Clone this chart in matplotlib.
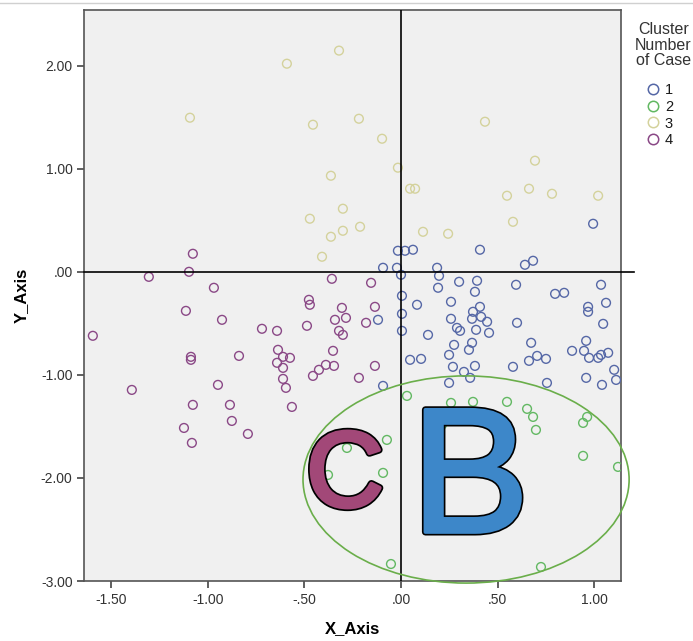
import matplotlib
matplotlib.use("Agg")
import matplotlib.pyplot as plt
import matplotlib.patheffects as pe
from matplotlib.patches import Ellipse
from matplotlib.lines import Line2D
from matplotlib.ticker import FixedLocator, FuncFormatter

plt.rcParams['font.family'] = ['Liberation Sans', 'DejaVu Sans']

# cluster 1 (blue)
c1_x = [0.995, -0.016, 0.021, 0.062, 0.409, 0.642, 0.684, -0.093, -0.021, 0.187,
        0.197, 0.000, 0.301, 0.394, 0.192, 0.383, 0.596, 1.036, 0.798, 0.845,
        0.005, 0.083, 0.259, 0.409, 0.373, 0.368, 0.415, 0.259, 0.446, 0.601,
        0.969, 0.969, 1.062, -0.119, 0.005, 0.290, 0.306, 0.389, 0.456, 1.047,
        0.005, 0.140, 0.959, 0.275, 0.368, 0.352, 0.674, 0.886, 0.948, 0.249,
        0.705, 0.663, 0.751, 0.974, 1.021, 1.036, 1.073, 0.047, 0.104, 0.269,
        0.383, 0.580, 0.326, 0.358, 1.104, 1.114, 0.959, 1.041, 0.249, 0.756,
        -0.093]
c1_y = [0.466, 0.204, 0.204, 0.214, 0.214, 0.068, 0.107, 0.039, 0.039, 0.039,
        -0.039, -0.029, -0.097, -0.087, -0.155, -0.194, -0.126, -0.126, -0.214, -0.204,
        -0.233, -0.320, -0.291, -0.340, -0.388, -0.456, -0.437, -0.456, -0.485, -0.495,
        -0.340, -0.388, -0.301, -0.466, -0.408, -0.544, -0.573, -0.563, -0.592, -0.505,
        -0.573, -0.612, -0.670, -0.709, -0.689, -0.757, -0.689, -0.767, -0.767, -0.806,
        -0.816, -0.864, -0.845, -0.835, -0.835, -0.806, -0.786, -0.854, -0.845, -0.922,
        -0.913, -0.922, -0.971, -1.029, -0.951, -1.049, -1.029, -1.097, -1.078, -1.078,
        -1.107]

# cluster 2 (green)
c2_x = [0.031, 0.259, 0.373, 0.549, 0.653, 0.684, 0.699, 0.964, 0.943, 0.212,
        0.244, -0.073, -0.280, -0.378, -0.093, 0.943, 1.124, -0.052, 0.725]
c2_y = [-1.204, -1.272, -1.262, -1.262, -1.330, -1.408, -1.534, -1.408, -1.466, -1.485,
        -1.447, -1.631, -1.709, -1.971, -1.951, -1.786, -1.893, -2.835, -2.864]

# cluster 3 (beige)
c3_x = [-0.591, -0.321, -1.093, -0.456, -0.218, -0.098, -0.016, -0.363, -0.472, -0.301,
        -0.212, -0.363, -0.301, -0.409, 0.435, 0.694, 0.047, 0.073, 0.549, 0.663,
        0.782, 1.021, 0.580, 0.114, 0.244]
c3_y = [2.019, 2.146, 1.495, 1.427, 1.485, 1.291, 1.010, 0.932, 0.515, 0.612,
        0.437, 0.340, 0.398, 0.146, 1.456, 1.078, 0.806, 0.806, 0.738, 0.806,
        0.757, 0.738, 0.485, 0.388, 0.369]

# cluster 4 (purple)
c4_x = [-1.078, -1.098, -1.306, -0.358, -0.969, -0.155, -1.114, -0.927, -0.477, -0.472,
        -0.306, -0.135, -0.342, -0.285, -0.181, -0.720, -0.642, -0.487, -0.321, -0.301,
        -1.596, -0.637, -0.352, -0.611, -0.575, -1.088, -1.088, -0.839, -0.642, -0.611,
        -0.389, -0.425, -0.456, -0.347, -0.135, -0.218, -0.611, -0.948, -1.394, -0.596,
        -1.078, -0.886, -0.565, -0.876, -1.124, -0.793, -1.083]
c4_y = [0.175, 0.000, -0.049, -0.068, -0.155, -0.107, -0.379, -0.466, -0.272, -0.320,
        -0.350, -0.340, -0.466, -0.447, -0.495, -0.553, -0.573, -0.524, -0.573, -0.612,
        -0.621, -0.757, -0.767, -0.825, -0.835, -0.825, -0.854, -0.816, -0.883, -0.932,
        -0.903, -0.951, -1.010, -0.913, -0.913, -1.029, -1.039, -1.097, -1.146, -1.126,
        -1.291, -1.291, -1.311, -1.447, -1.515, -1.573, -1.660]

cluster_labels = ['1', '2', '3', '4']
cluster_colors = ['#5567a6', '#62b862', '#d4d29c', '#8a4886']
x_ticks = [-1.5, -1.0, -0.5, 0.0, 0.5, 1.0]
y_ticks = [-3.0, -2.0, -1.0, 0.0, 1.0, 2.0]


def spss_fmt(v, pos=None):
    s = f"{v:.2f}"
    if s.startswith("0."):
        s = s[1:]
    elif s.startswith("-0."):
        s = "-" + s[2:]
    return s


fig = plt.figure(figsize=(6.93, 6.41), dpi=100)
ax = fig.add_axes([0.1217, 0.0936, 0.774, 0.8908])
ax.set_facecolor('#f0f0f0')
ax.set_xlim(-1.64, 1.138)
ax.set_ylim(-3.0, 2.54)

series = [(c1_x, c1_y), (c2_x, c2_y), (c3_x, c3_y), (c4_x, c4_y)]
for (xs, ys), col in zip(series, cluster_colors):
    ax.scatter(xs, ys, s=40, facecolors='none', edgecolors=col, linewidths=1.0, zorder=3)

# reference lines
ax.plot([-1.64, 1.207], [0, 0], color='black', lw=1.2, clip_on=False, zorder=4)
ax.axvline(0, color='black', lw=1.2, zorder=4)

# highlighted region
ax.add_patch(Ellipse((0.337, -2.015), 1.689, 2.01, fill=False, edgecolor='#6aae4a',
                     lw=1.2, clip_on=False, zorder=5))

# big letters, thickened with a same-colour stroke and outlined in black
c_col, b_col = '#a24878', '#3d87c9'
ax.text(-0.290, -2.275, 'C', fontsize=77, color=c_col, ha='center', va='baseline', zorder=6,
        path_effects=[pe.withStroke(linewidth=5.5, foreground='black'),
                      pe.withStroke(linewidth=3.0, foreground=c_col)])
ax.text(0.358, -2.525, 'B', fontsize=128, color=b_col, ha='center', va='baseline', zorder=6,
        path_effects=[pe.withStroke(linewidth=5.0, foreground='black'),
                      pe.withStroke(linewidth=2.6, foreground=b_col)])

ax.xaxis.set_major_locator(FixedLocator(x_ticks))
ax.yaxis.set_major_locator(FixedLocator(y_ticks))
ax.xaxis.set_major_formatter(FuncFormatter(spss_fmt))
ax.yaxis.set_major_formatter(FuncFormatter(spss_fmt))
ax.tick_params(axis='both', direction='out', length=5, width=1.2, color='#444444',
               labelsize=10, labelcolor='#333333')
for sp in ax.spines.values():
    sp.set_color('#555555')
    sp.set_linewidth(1.2)

ax.set_xlabel('X_Axis', fontsize=12, fontweight='bold', labelpad=10)
ax.set_ylabel('Y_Axis', fontsize=12, fontweight='bold', labelpad=9)

# legend: title as its own text, entries below it
fig.text(0.957, 0.966, 'Cluster\nNumber\nof Case', ha='center', va='top', fontsize=11.5,
         linespacing=1.07, color='#333333')
handles = [Line2D([], [], ls='none', marker='o', markersize=7.5, markerfacecolor='none',
                  markeredgecolor=c, markeredgewidth=1.1) for c in cluster_colors]
fig.legend(handles, cluster_labels, loc='upper left', bbox_to_anchor=(0.932, 0.871),
           frameon=False, fontsize=10.5, handletextpad=0.35, labelspacing=0.2,
           borderpad=0.0, borderaxespad=0.0, handlelength=0.95, labelcolor='#1a1a1a')

fig.add_artist(Line2D([0, 1], [0.995, 0.995], color='#d0d0d0', lw=1.0))

fig.savefig('out.png', dpi=100)
